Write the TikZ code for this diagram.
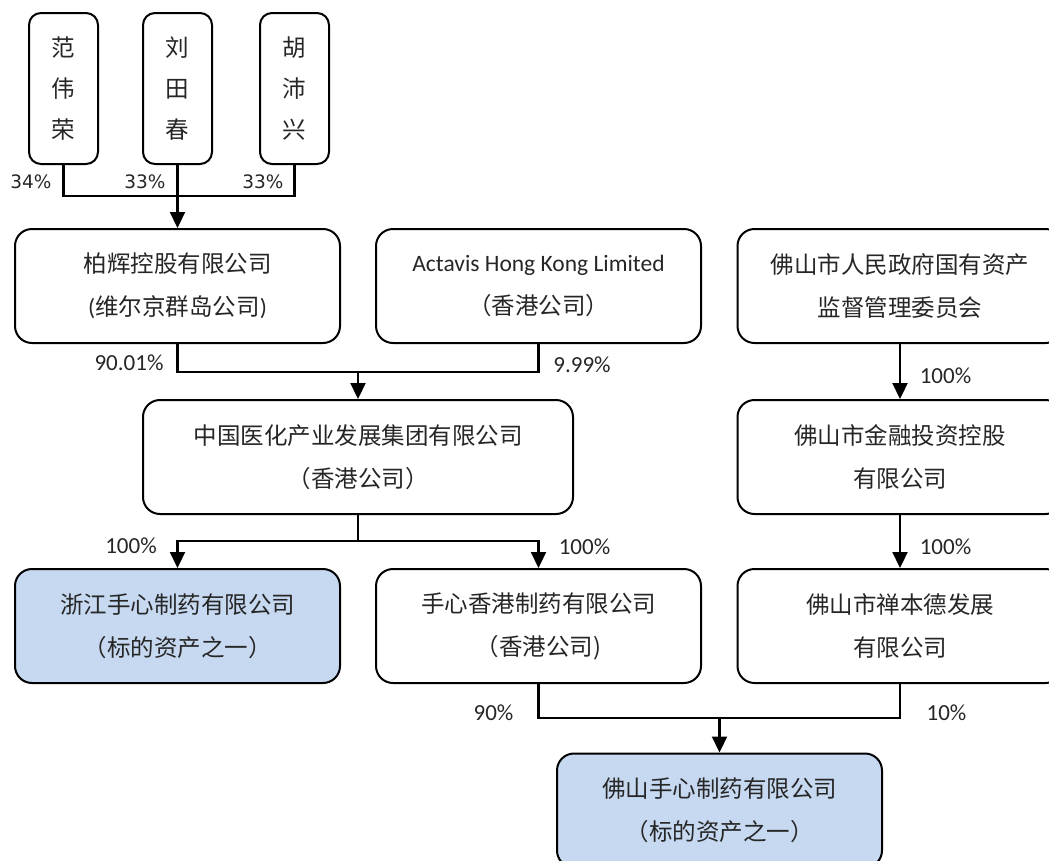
\documentclass[tikz,border=0pt]{standalone}
\usepackage{fontspec}
\setmainfont{Carlito}
\newfontfamily\cjk{Noto Sans CJK SC}
\newfontfamily\pct{DejaVu Sans}
\usetikzlibrary{arrows.meta,positioning}
\definecolor{targetblue}{RGB}{198,217,241}
\tikzset{
    company/.style = {
        draw,
        rounded corners=17pt,
        line width=2pt,
        minimum width=325pt,
        minimum height=114pt,
        inner sep=0pt,
        align=center,
        text=black!85,
        font=\cjk\fontsize{23.5}{43}\selectfont,
        },
    target/.style = {
        company,
        fill=targetblue,
        },
    person/.style = {
        draw,
        rounded corners=12pt,
        line width=2pt,
        minimum width=69pt,
        minimum height=151pt,
        inner sep=0pt,
        align=center,
        text=black!85,
        font=\cjk\fontsize{23.5}{41}\selectfont,
        },
    share/.style = {
        inner sep=0pt,
        text=black!85,
        font=\fontsize{23}{23}\selectfont,
        },
    share small/.style = {
        share,
        font=\pct\fontsize{18.5}{18.5}\selectfont,
        },
    own/.style = {
        line width=2.2pt,
        },
    own arrow/.style = {
        own,
        -{Triangle[length=16pt,width=15pt]},
        },
}
\begin{document}
\begin{tikzpicture}[x=1pt,y=-1pt]
    \useasboundingbox (0,0) rectangle (1049,860);
    % shareholders
    \node[person] (fan) at (63.5,88.5) {范\\伟\\荣};
    \node[person] (liu) at (177.5,88.5) {刘\\田\\春};
    \node[person] (hu) at (294.5,88.5) {胡\\沛\\兴};

    \node[company] (baihui) at (177.5,286) {柏辉控股有限公司\\{\rmfamily(}维尔京群岛公司{\rmfamily)}};
    \node[company] (actavis) at (538.5,286) {{\rmfamily Actavis Hong Kong Limited}\\（香港公司）};
    \node[company] (renmin) at (900,286) {佛山市人民政府国有资产\\监督管理委员会};

    \node[company, minimum width=430pt] (zhongguo) at (358,457) {中国医化产业发展集团有限公司\\（香港公司）};
    \node[company] (jinrong) at (900,457) {佛山市金融投资控股\\有限公司};

    \node[target] (zhejiang) at (177.5,626) {浙江手心制药有限公司\\（标的资产之一）};
    \node[company] (shouxin) at (538.5,626) {手心香港制药有限公司\\（香港公司)};
    \node[company] (chanbende) at (900,626) {佛山市禅本德发展\\有限公司};

    \node[target] (foshan) at (719.5,810.5) {佛山手心制药有限公司\\（标的资产之一）};

    % junctions
    \coordinate (j1) at (177.5,196);
    \coordinate (j2) at (358,372);
    \coordinate (j3) at (358,541);
    \coordinate (j4) at (719.5,718);

    \draw[own] (fan.south) |- (j1) -| (hu.south);
    \draw[own arrow] (liu.south) -- (baihui.north);
    \draw[own] (baihui.south) |- (j2) -| (actavis.south);
    \draw[own arrow] (j2) -- (zhongguo.north);
    \draw[own] (zhongguo.south) -- (j3);
    \draw[own arrow] (j3) -| (zhejiang.north);
    \draw[own arrow] (j3) -| (shouxin.north);
    \draw[own arrow] (renmin.south) -- (jinrong.north);
    \draw[own arrow] (jinrong.south) -- (chanbende.north);
    \draw[own] (shouxin.south) |- (j4) -| (chanbende.south);
    \draw[own arrow] (j4) -- (foshan.north);

    % percentages
    \node[share small] (p-fan) at (31,182) {34\%};
    \node[share small] (p-liu) at (145,182) {33\%};
    \node[share small] (p-hu) at (263,182) {33\%};
    \node[share] (p-baihui) at (129,363) {90.01\%};
    \node[share] (p-actavis) at (582,365) {9.99\%};
    \node[share] (p-renmin) at (945.5,376) {100\%};
    \node[share] (p-zhejiang) at (131,546) {100\%};
    \node[share] (p-shouxin) at (584.5,547) {100\%};
    \node[share] (p-jinrong) at (945.5,547) {100\%};
    \node[share] (p-hk) at (493.5,713) {90\%};
    \node[share] (p-chanbende) at (946.5,713) {10\%};
\end{tikzpicture}
\end{document}
